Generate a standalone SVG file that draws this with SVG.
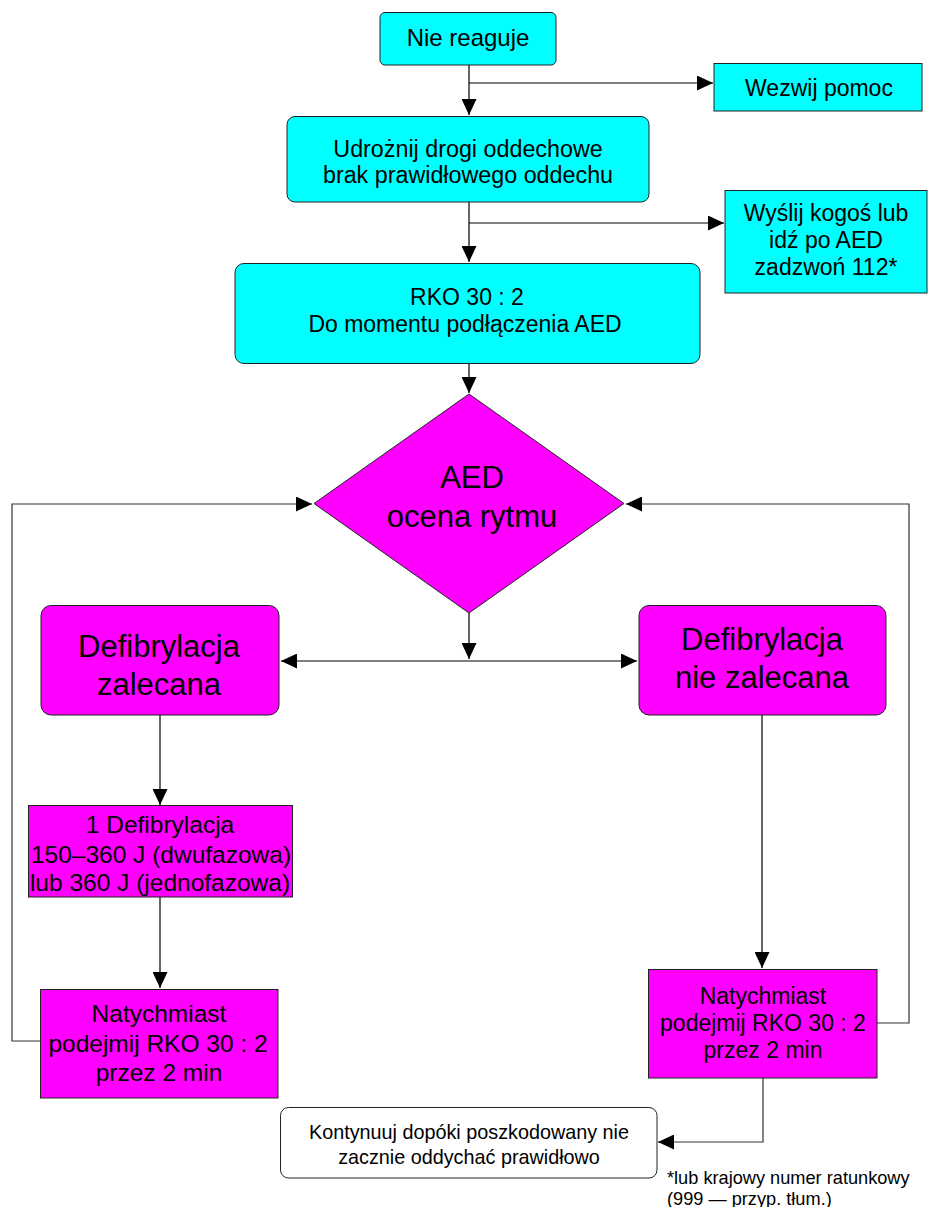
<svg xmlns="http://www.w3.org/2000/svg" width="928" height="1207" viewBox="0 0 928 1207">
  <style>
    text { font-family: "Liberation Sans", Arial, Helvetica, sans-serif; fill: #000; text-anchor: middle; }
    .cyan { fill: #00FFFF; stroke: #222; stroke-width: 1; }
    .mag { fill: #FF00FF; stroke: #222; stroke-width: 1; }
    .white { fill: #FFFFFF; stroke: #222; stroke-width: 1; }
    .conn { fill: none; stroke: #000; stroke-width: 1.2; }
    .loop { fill: none; stroke: #333; stroke-width: 1.2; }
  </style>
  <defs>
    <marker id="arr" viewBox="0 0 16 15" refX="16" refY="7.5" markerWidth="16" markerHeight="15" markerUnits="userSpaceOnUse" orient="auto-start-reverse">
      <path d="M0,0 L16,7.5 L0,15 Z" fill="#000"/>
    </marker>
  </defs>

  <g id="connectors">
    <path class="conn" d="M469,65 V115" marker-end="url(#arr)"/>
    <path class="conn" d="M469,83 H713" marker-end="url(#arr)"/>
    <path class="conn" d="M469,202 V262" marker-end="url(#arr)"/>
    <path class="conn" d="M469,223 H724" marker-end="url(#arr)"/>
    <path class="conn" d="M469,364 V393" marker-end="url(#arr)"/>
    <path class="conn" d="M469,613 V659" marker-end="url(#arr)"/>
    <path class="conn" d="M281,661 H637" marker-start="url(#arr)" marker-end="url(#arr)"/>
    <path class="conn" d="M160,715 V805" marker-end="url(#arr)"/>
    <path class="conn" d="M160,897 V988" marker-end="url(#arr)"/>
    <path class="loop" d="M42,1041 H12 V504 H312" marker-end="url(#arr)"/>
    <path class="conn" d="M762,715 V968" marker-end="url(#arr)"/>
    <path class="loop" d="M877,1023 H909 V504 H626" marker-end="url(#arr)"/>
    <path class="loop" d="M763,1078 V1142 H658" marker-end="url(#arr)"/>
  </g>

  <g id="nie-reaguje">
    <rect class="cyan" x="380" y="12.5" width="176" height="52.5" rx="5"/>
    <text x="468" y="46" font-size="24">Nie reaguje</text>
  </g>

  <g id="wezwij-pomoc">
    <rect class="cyan" x="714" y="63.5" width="208" height="47.5"/>
    <text x="819" y="96" font-size="23">Wezwij pomoc</text>
  </g>

  <g id="udroznij">
    <rect class="cyan" x="287" y="116.5" width="362" height="85.5" rx="8"/>
    <text x="468" y="157" font-size="23.3">Udrożnij drogi oddechowe</text>
    <text x="468" y="183" font-size="23.3">brak prawidłowego oddechu</text>
  </g>

  <g id="wyslij">
    <rect class="cyan" x="725" y="190.5" width="202" height="102.5"/>
    <text x="826" y="221" font-size="23">Wyślij kogoś lub</text>
    <text x="826" y="248" font-size="23">idź po AED</text>
    <text x="826" y="275" font-size="23">zadzwoń 112*</text>
  </g>

  <g id="rko">
    <rect class="cyan" x="235" y="263.5" width="465" height="100" rx="9"/>
    <text x="467" y="305" font-size="23">RKO 30 : 2</text>
    <text x="465" y="332" font-size="23">Do momentu podłączenia AED</text>
  </g>

  <g id="aed">
    <polygon class="mag" points="469,394 624,503.5 469,613 314,503.5"/>
    <text x="472" y="488" font-size="31">AED</text>
    <text x="472" y="527" font-size="31">ocena rytmu</text>
  </g>

  <g id="defib-zalecana">
    <rect class="mag" x="41" y="605.5" width="238" height="109.5" rx="10"/>
    <text x="159" y="657" font-size="31">Defibrylacja</text>
    <text x="159" y="695" font-size="31">zalecana</text>
  </g>

  <g id="defib-nie-zalecana">
    <rect class="mag" x="639" y="605.5" width="247" height="109.5" rx="10"/>
    <text x="762" y="650" font-size="31">Defibrylacja</text>
    <text x="762" y="688" font-size="31">nie zalecana</text>
  </g>

  <g id="jedna-defibrylacja">
    <rect class="mag" x="28.5" y="805.5" width="264" height="91.5"/>
    <text x="160" y="833" font-size="24.5">1 Defibrylacja</text>
    <text x="161" y="863" font-size="24.5">150–360 J (dwufazowa)</text>
    <text x="160" y="891" font-size="24.5">lub 360 J (jednofazowa)</text>
  </g>

  <g id="natychmiast-lewy">
    <rect class="mag" x="40.5" y="989.5" width="237.5" height="108.5"/>
    <text x="159" y="1022" font-size="24.5">Natychmiast</text>
    <text x="158" y="1052" font-size="24.5">podejmij RKO 30 : 2</text>
    <text x="159" y="1081" font-size="24.5">przez 2 min</text>
  </g>

  <g id="natychmiast-prawy">
    <rect class="mag" x="648.5" y="969.5" width="228.5" height="108.5"/>
    <text x="763" y="1004" font-size="23">Natychmiast</text>
    <text x="763" y="1031" font-size="23">podejmij RKO 30 : 2</text>
    <text x="763" y="1058" font-size="23">przez 2 min</text>
  </g>

  <g id="kontynuuj">
    <rect class="white" x="280.5" y="1107.5" width="376.5" height="70.5" rx="8"/>
    <text x="469" y="1139" font-size="19.8">Kontynuuj dopóki poszkodowany nie</text>
    <text x="469" y="1164" font-size="19.8">zacznie oddychać prawidłowo</text>
  </g>

  <g id="przypis">
    <text x="667" y="1184" font-size="18.2" style="text-anchor:start">*lub krajowy numer ratunkowy</text>
    <text x="667" y="1205" font-size="18.2" style="text-anchor:start">(999 — przyp. tłum.)</text>
  </g>
</svg>
